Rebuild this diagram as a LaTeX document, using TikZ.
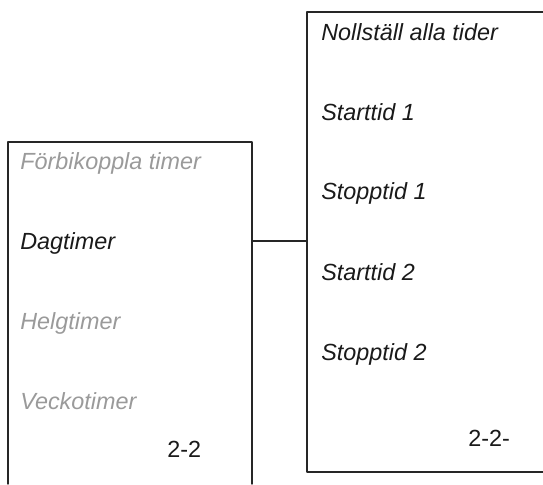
\documentclass[tikz,border=0pt]{standalone}
\usepackage{fontspec}
\setmainfont{Liberation Sans}
\definecolor{textgray}{HTML}{9A9A9A}
\definecolor{textdark}{HTML}{1A1A1A}
\begin{document}
\begin{tikzpicture}[x=0.02cm, y=-0.02cm, line join=round, line cap=round,
	font=\fontsize{13.3}{16}\selectfont\itshape,
	item/.style={anchor=base west, inner sep=0pt, text=textdark},
	itemoff/.style={item, text=textgray},
	code/.style={anchor=base west, inner sep=0pt, font=\fontsize{13.3}{16}\selectfont, text=textdark}]

				\useasboundingbox (0,0) rectangle (543,484);
				% Hai khung menu
				\coordinate (L1) at (8,484);
				\coordinate (L2) at (8,142);
				\coordinate (L3) at (252,142);
				\coordinate (L4) at (252,484);
				\coordinate (R1) at (543,12);
				\coordinate (R2) at (307,12);
				\coordinate (R3) at (307,472);
				\coordinate (R4) at (543,472);
				\draw[line width=0.8pt, black!85] (L1) -- (L2) -- (L3) -- (L4);
				\draw[line width=0.8pt, black!85] (R1) -- (R2) -- (R3) -- (R4);
				% Duong noi
				\coordinate (CL) at (252,241);
				\coordinate (CR) at (307,241);
				\draw[line width=0.8pt, black!85] (CL) -- (CR);
				% Khung trai
				\node[itemoff] (bypass) at (20,169) {Förbikoppla timer};
				\node[item] (day) at (20,249) {Dagtimer};
				\node[itemoff] (weekend) at (20,329) {Helgtimer};
				\node[itemoff] (week) at (20,409) {Veckotimer};
				\node[code] (codeL) at (167,457) {2-2};
				% Khung phai
				\node[item] (reset) at (321,40) {Nollställ alla tider};
				\node[item] (start1) at (321,120) {Starttid 1};
				\node[item] (stop1) at (321,199) {Stopptid 1};
				\node[item] (start2) at (321,280) {Starttid 2};
				\node[item] (stop2) at (321,360) {Stopptid 2};
				\node[code] (codeR) at (468,446) {2-2-};

			\end{tikzpicture}
\end{document}
